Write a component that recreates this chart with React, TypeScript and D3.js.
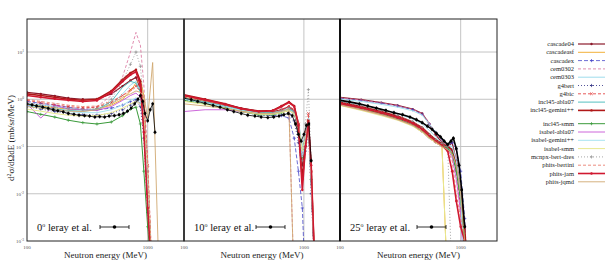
import React from "react";
import * as d3 from "d3";

// neutron DDX, p + Pb, three angles
const panelAngles = ["0", "10", "25"];

const e0 = [100, 130, 170, 220, 290, 380, 500, 620, 720, 800, 870, 930, 1000, 1100, 1250];
const e10 = [100, 150, 220, 300, 420, 550, 650, 750, 830, 900, 970, 1030, 1090, 1150, 1250];
const e25 = [100, 150, 220, 300, 400, 480, 550, 620, 700, 780, 850, 920, 1000, 1080, 1150];
const gridEnergies = [e0, e10, e25];

const cascade04 = [
  [1.4, 1.3, 1.18, 1.06, 1.0, 1.02, 1.3, 1.9, 2.5, 2.9, 1.6, 0.35, 0.01, 0, 0],
  [1.2, 0.95, 0.78, 0.65, 0.56, 0.55, 0.6, 0.7, 0.55, 0.2, 0.04, 0.12, 0.3, 0.02, 0],
  [1.1, 0.98, 0.85, 0.74, 0.62, 0.5, 0.3, 0.18, 0.12, 0.1, 0.12, 0.05, 0.008, 0.001, 0],
];
const cascadeasf = [
  [0.78, 0.72, 0.66, 0.62, 0.6, 0.62, 0.75, 1.0, 1.5, 2.2, 2.6, 1.2, 0.02, 0, 0],
  [1.1, 0.9, 0.74, 0.62, 0.52, 0.5, 0.52, 0.58, 0.5, 0.3, 0.1, 0.15, 0.25, 0.05, 0],
  [0.78, 0.62, 0.48, 0.38, 0.28, 0.2, 0.15, 0.12, 0.1, 0, 0, 0, 0, 0, 0],
];
const cascadex = [
  [0.9, 0.82, 0.75, 0.68, 0.62, 0.6, 0.65, 0.75, 0.9, 1.0, 0.8, 0.3, 0.01, 0, 0],
  [1.0, 0.85, 0.7, 0.58, 0.48, 0.45, 0.45, 0.4, 0.15, 0.03, 0.005, 0, 0, 0, 0],
  [1.05, 0.94, 0.82, 0.72, 0.6, 0.48, 0.3, 0.2, 0.14, 0.11, 0.12, 0.09, 0.03, 0.003, 0],
];
const cem0302 = [
  [0.85, 0.78, 0.7, 0.65, 0.62, 0.7, 1.2, 3.0, 10, 26, 14, 2.0, 0.05, 0, 0],
  [1.05, 0.88, 0.72, 0.6, 0.52, 0.52, 0.58, 0.7, 0, 0, 0, 0, 0, 0, 0],
  [1.08, 0.96, 0.84, 0.73, 0.61, 0.5, 0.32, 0.19, 0.13, 0.1, 0.1, 0.06, 0.01, 0.001, 0],
];
const cem0303 = [
  [0.82, 0.76, 0.7, 0.64, 0.6, 0.62, 0.8, 1.3, 2.0, 2.4, 1.6, 0.5, 0.02, 0, 0],
  [1.0, 0.85, 0.7, 0.58, 0.5, 0.5, 0.55, 0.62, 0.55, 0.35, 0.1, 0.2, 0.4, 0.05, 0],
  [0.9, 0.76, 0.62, 0.5, 0.38, 0.3, 0.22, 0.16, 0.12, 0.1, 0.09, 0.05, 0.01, 0, 0],
];
const g4bert = [
  [0.7, 0.62, 0.55, 0.5, 0.47, 0.46, 0.5, 0.6, 0.75, 0.9, 0.7, 0.15, 0.004, 0, 0],
  [0.95, 0.8, 0.66, 0.55, 0.46, 0.45, 0.47, 0.5, 0.35, 0.12, 0.03, 0.08, 0.2, 0.01, 0],
  [0.85, 0.69, 0.54, 0.43, 0.32, 0.24, 0.17, 0.135, 0.11, 0.095, 0.085, 0.05, 0.012, 0.002, 0],
];
const g4bic = [
  [0.95, 0.85, 0.76, 0.7, 0.66, 0.68, 0.85, 1.2, 1.6, 1.9, 2.0, 0.9, 0.04, 0, 0],
  [1.1, 0.9, 0.74, 0.62, 0.54, 0.54, 0.6, 0.72, 0.6, 0.3, 0.05, 0.2, 0.5, 0.03, 0],
  [0.8, 0.64, 0.5, 0.4, 0.3, 0.22, 0.16, 0.13, 0.11, 0.095, 0.075, 0.03, 0.005, 0.001, 0],
];
const incl45Abla07 = [
  [0.75, 0.68, 0.62, 0.58, 0.56, 0.6, 0.9, 1.8, 2.4, 2.2, 1.4, 0.3, 0.01, 0, 0],
  [1.05, 0.88, 0.72, 0.6, 0.52, 0.52, 0.56, 0.62, 0.55, 0.3, 0.08, 0.15, 0.35, 0.02, 0],
  [0.83, 0.67, 0.52, 0.41, 0.31, 0.23, 0.165, 0.13, 0.11, 0.095, 0.078, 0.035, 0.008, 0.001, 0],
];
const incl45Gemini = [
  [1.3, 1.2, 1.1, 1.0, 0.95, 1.0, 1.5, 2.6, 3.6, 4.2, 2.4, 0.3, 0.01, 0, 0],
  [1.25, 1.0, 0.8, 0.64, 0.56, 0.58, 0.72, 0.88, 0.72, 0.3, 0.02, 0.1, 0.35, 0.03, 0],
  [0.86, 0.7, 0.55, 0.44, 0.33, 0.25, 0.18, 0.14, 0.115, 0.1, 0.085, 0.045, 0.01, 0.002, 0],
];
const incl45Smm = [
  [0.55, 0.48, 0.42, 0.36, 0.32, 0.3, 0.33, 0.45, 0.62, 0.68, 0.3, 0.03, 0.002, 0, 0],
  [0.95, 0.8, 0.66, 0.55, 0.47, 0.47, 0.52, 0.6, 0.5, 0.25, 0.06, 0.12, 0.28, 0.02, 0],
  [0.8, 0.64, 0.5, 0.39, 0.29, 0.21, 0.155, 0.125, 0.105, 0.09, 0.07, 0.03, 0.007, 0.001, 0],
];
const isabelAbla07 = [
  [0.8, 0.4, 0.75, 0.62, 0.6, 0.58, 0.7, 0.95, 1.2, 1.35, 1.1, 0.5, 0.02, 0, 0],
  [0.55, 0.6, 0.6, 0.55, 0.5, 0.5, 0.55, 0.6, 0.5, 0.3, 0.06, 0.15, 0.3, 0.02, 0],
  [0.76, 0.6, 0.47, 0.37, 0.28, 0.2, 0.15, 0.12, 0.1, 0.085, 0.06, 0.02, 0.004, 0, 0],
];
const isabelGemini = [
  [0.72, 0.66, 0.6, 0.55, 0.52, 0.52, 0.6, 0.75, 0.95, 1.05, 0.9, 0.4, 0.015, 0, 0],
  [1.0, 0.84, 0.7, 0.58, 0.5, 0.5, 0.54, 0.6, 0.5, 0.28, 0.06, 0.14, 0.3, 0.02, 0],
  [1.0, 0.9, 0.78, 0.68, 0.57, 0.46, 0.3, 0.2, 0.14, 0.11, 0.1, 0.05, 0.01, 0, 0],
];
const isabelSmm = [
  [0.62, 0.56, 0.5, 0.46, 0.44, 0.45, 0.52, 0.65, 0.8, 0.9, 0.8, 0.5, 0.03, 0, 0],
  [0.9, 0.78, 0.65, 0.55, 0.48, 0.48, 0.52, 0.58, 0.5, 0.3, 0.08, 0.15, 0.3, 0.03, 0],
  [0.74, 0.58, 0.45, 0.36, 0.27, 0.2, 0.15, 0.12, 0.1, 0, 0, 0, 0, 0, 0],
];
const mcnpxBertDres = [
  [0.8, 0.74, 0.68, 0.63, 0.6, 0.64, 1.0, 2.4, 5.5, 10, 5, 0.8, 0.03, 0, 0],
  [1.1, 0.9, 0.74, 0.62, 0.54, 0.54, 0.58, 0.66, 0.55, 0.25, 0.05, 0.3, 1.6, 0.05, 0],
  [0.88, 0.72, 0.57, 0.45, 0.34, 0.25, 0.18, 0.14, 0.115, 0.1, 0, 0, 0, 0, 0],
];
const phitsBertini = [
  [1.0, 0.9, 0.82, 0.75, 0.7, 0.72, 0.9, 1.2, 1.5, 1.8, 1.5, 0.7, 0.05, 0, 0],
  [1.15, 0.94, 0.76, 0.62, 0.55, 0.56, 0.68, 0.85, 0.7, 0.3, 0.015, 0.08, 0.3, 0.03, 0],
  [0.8, 0.65, 0.51, 0.4, 0.3, 0.22, 0.16, 0.13, 0.105, 0.085, 0.05, 0.01, 0.003, 0.001, 0],
];
const phitsJam = [
  [1.2, 1.1, 1.02, 0.95, 0.9, 0.94, 1.4, 2.4, 3.3, 3.8, 2.0, 0.2, 0.005, 0, 0],
  [1.2, 0.97, 0.78, 0.63, 0.55, 0.57, 0.7, 0.86, 0.7, 0.28, 0.012, 0.1, 0.32, 0.04, 0],
  [0.82, 0.66, 0.52, 0.41, 0.31, 0.23, 0.165, 0.13, 0.105, 0.08, 0.03, 0.007, 0.002, 0.001, 0],
];
const phitsJqmd = [
  [0.7, 0.65, 0.6, 0.56, 0.55, 0.6, 0.8, 1.1, 1.3, 1.5, 1.4, 1.2, 0.4, 6, 0],
  [0.8, 0.72, 0.64, 0.56, 0.5, 0.5, 0.55, 0.62, 0, 0, 0, 0, 0, 0, 0],
  [0.75, 0.6, 0.47, 0.37, 0.28, 0.21, 0.155, 0.125, 0.1, 0.085, 0.07, 0.04, 0.01, 0.001, 0],
];

const modelNames = [
  "cascade04", "cascadeasf", "cascadex", "cem0302", "cem0303", "g4bert", "g4bic",
  "incl45-abla07", "incl45-gemini++", "incl45-smm", "isabel-abla07", "isabel-gemini++",
  "isabel-smm", "mcnpx-bert-dres", "phits-bertini", "phits-jam", "phits-jqmd",
];
const modelValues = [
  cascade04, cascadeasf, cascadex, cem0302, cem0303, g4bert, g4bic, incl45Abla07,
  incl45Gemini, incl45Smm, isabelAbla07, isabelGemini, isabelSmm, mcnpxBertDres,
  phitsBertini, phitsJam, phitsJqmd,
];
const modelColors = [
  "#8b1a2b", "#f2b13a", "#4848c8", "#d8709a", "#9fdcec", "#2a2a80", "#e03030",
  "#55c0c0", "#b01818", "#3a9a3a", "#c040d0", "#a8e4f0", "#e8e890", "#909090",
  "#e87060", "#d01830", "#d0a870",
];
const modelDashes = [
  "", "", "4,2", "3,2", "", "1,2", "3,2", "", "", "", "", "", "", "1,2", "3,2", "", "",
];
const modelMarks = [
  "o", "", "+", "", "", "+", "x", "", "o", "+", "", "", "", "+", "", "o", "",
];
const modelWidths = [1.2, 1, 0.8, 0.8, 1, 0.8, 0.8, 1, 1.6, 1, 0.8, 1, 1, 0.8, 0.8, 1.6, 0.9];

const exp0E = [100, 110, 120, 135, 150, 165, 180, 200, 220, 245, 270, 300, 330, 365, 400, 440, 480, 530, 580, 630, 680, 730, 780, 830, 870, 910, 950, 1000, 1050, 1100, 1150];
const exp0 = [0.8, 0.76, 0.72, 0.68, 0.64, 0.6, 0.57, 0.54, 0.5, 0.48, 0.46, 0.45, 0.44, 0.42, 0.43, 0.42, 0.44, 0.45, 0.47, 0.5, 0.56, 0.65, 0.8, 1.0, 1.2, 0.9, 0.5, 0.35, 0.6, 0.8, 0.2];
const exp10E = [100, 115, 130, 150, 175, 200, 230, 260, 300, 340, 390, 440, 500, 560, 620, 680, 740, 800, 850, 900, 950, 1000, 1050, 1100, 1150];
const exp10 = [1.05, 0.98, 0.9, 0.82, 0.74, 0.68, 0.6, 0.55, 0.5, 0.46, 0.44, 0.42, 0.41, 0.42, 0.44, 0.47, 0.5, 0.45, 0.3, 0.18, 0.13, 0.18, 0.28, 0.3, 0.05];
const exp25E = [100, 120, 145, 170, 200, 240, 280, 330, 380, 430, 480, 530, 580, 630, 680, 730, 780, 830, 870, 920, 970, 1020, 1080];
const exp25 = [0.95, 0.88, 0.8, 0.72, 0.65, 0.58, 0.52, 0.47, 0.42, 0.37, 0.32, 0.27, 0.23, 0.19, 0.16, 0.13, 0.11, 0.13, 0.15, 0.09, 0.04, 0.012, 0.002];
const expEnergies = [exp0E, exp10E, exp25E];
const expValues = [exp0, exp10, exp25];

const yTickExps = [1, 0, -1, -2, -3];
const xTicks = [100, 1000];

const W = 611;
const H = 268;
const top = 19;
const bottom = 241;
const panelEdges = [27, 184, 340, 497];
const serif = "Liberation Serif, DejaVu Serif, serif";

function Marker({ kind, x, y, color }: { kind: string; x: number; y: number; color: string }) {
  if (kind === "o") return <circle cx={x} cy={y} r={1.2} fill={color} />;
  if (kind === "+")
    return <path d={`M${x - 1.6},${y}h3.2M${x},${y - 1.6}v3.2`} stroke={color} strokeWidth={0.7} />;
  if (kind === "x")
    return <path d={`M${x - 1.3},${y - 1.3}l2.6,2.6M${x - 1.3},${y + 1.3}l2.6,-2.6`} stroke={color} strokeWidth={0.7} />;
  return null;
}

function Panel({ idx }: { idx: number }) {
  const x0 = panelEdges[idx];
  const x1 = panelEdges[idx + 1];
  const x = d3.scaleLog().domain([100, 2000]).range([x0, x1]);
  const y = d3.scaleLog().domain([1e-3, 50]).range([bottom, top]);
  const yv = (v: number) => y(Math.max(v, 1e-4));
  const energies = gridEnergies[idx];
  const line = d3.line<[number, number]>().x((d) => x(d[0])).y((d) => yv(d[1]));
  const clipId = `clip${idx}`;
  const expPts = expEnergies[idx].map((e, i) => [e, expValues[idx][i]] as [number, number]);
  const mid = (x0 + x1) / 2;
  const legX = x0 + (idx === 0 ? 73 : idx === 1 ? 72 : 77);

  return (
    <g>
      <defs>
        <clipPath id={clipId}>
          <rect x={x0} y={top} width={x1 - x0} height={bottom - top} />
        </clipPath>
      </defs>
      {yTickExps.slice(0, 4).map((p) => (
        <line key={p} x1={x0} x2={x1} y1={y(10 ** p)} y2={y(10 ** p)} stroke="#c4c4c4" strokeWidth={1} />
      ))}
      <line x1={x(1000)} x2={x(1000)} y1={top} y2={bottom} stroke="#c4c4c4" strokeWidth={1} />
      <g clipPath={`url(#${clipId})`}>
        {modelValues.map((vals, m) => {
          const pts = energies.map((e, i) => [e, vals[idx][i]] as [number, number]);
          return (
            <g key={m}>
              <path
                d={line(pts) ?? ""}
                fill="none"
                stroke={modelColors[m]}
                strokeWidth={modelWidths[m]}
                strokeDasharray={modelDashes[m] || undefined}
              />
              {modelMarks[m] &&
                pts.map((p, i) => (
                  <Marker key={i} kind={modelMarks[m]} x={x(p[0])} y={yv(p[1])} color={modelColors[m]} />
                ))}
            </g>
          );
        })}
        <path d={line(expPts) ?? ""} fill="none" stroke="#000" strokeWidth={idx === 2 ? 1.6 : 0.8} />
        {expPts.map((p, i) => (
          <g key={i}>
            <line x1={x(p[0])} x2={x(p[0])} y1={yv(p[1]) - 2} y2={yv(p[1]) + 2} stroke="#000" strokeWidth={0.6} />
            <circle cx={x(p[0])} cy={yv(p[1])} r={1.4} fill="#000" />
          </g>
        ))}
      </g>
      <rect x={x0} y={top} width={x1 - x0} height={bottom - top} fill="none" stroke="#222" strokeWidth={1} />
      {xTicks.map((t) => (
        <text key={t} x={x(t)} y={249} fontSize={5} textAnchor="middle" fill="#555" fontFamily={serif}>
          {t}
        </text>
      ))}
      <text x={mid} y={258} fontSize={9} textAnchor="middle" fontFamily={serif} fill="#222">
        Neutron energy (MeV)
      </text>
      <text x={x0 + 10} y={231} fontSize={10.5} fontFamily={serif} fill="#111">
        {panelAngles[idx]}
        <tspan fontSize={6} dy={-4}>o</tspan>
        <tspan dy={4}> leray et al.</tspan>
      </text>
      <line x1={legX} x2={legX + 29} y1={227} y2={227} stroke="#000" strokeWidth={0.8} />
      <line x1={legX} x2={legX} y1={225} y2={229} stroke="#000" strokeWidth={0.8} />
      <line x1={legX + 29} x2={legX + 29} y1={225} y2={229} stroke="#000" strokeWidth={0.8} />
      <circle cx={legX + 14.5} cy={227} r={1.8} fill="#000" />
    </g>
  );
}

export default function App() {
  const y = d3.scaleLog().domain([1e-3, 50]).range([bottom, top]);
  return (
    <svg width={W} height={H} style={{ position: "absolute", left: 0, top: 0, background: "#fff" }}>
      {[0, 1, 2].map((i) => (
        <Panel key={i} idx={i} />
      ))}
      <line x1={184} x2={184} y1={top} y2={bottom} stroke="#333" strokeWidth={1.6} />
      <line x1={340} x2={340} y1={top} y2={bottom} stroke="#111" strokeWidth={2} />
      {yTickExps.map((p) => (
        <text key={p} x={24} y={y(10 ** p) + 2} fontSize={5} textAnchor="end" fill="#555" fontFamily={serif}>
          10<tspan fontSize={3.5} dy={-2}>{p}</tspan>
        </text>
      ))}
      <text
        transform={`translate(14,${(top + bottom) / 2 + 8}) rotate(-90)`}
        fontSize={9}
        textAnchor="middle"
        fontFamily={serif}
        fill="#222"
      >
        d<tspan fontSize={6} dy={-3}>2</tspan>
        <tspan dy={3}>σ/dΩdE (mb/sr/MeV)</tspan>
      </text>
      {modelNames.map((name, i) => {
        const ly = 44 + i * 8.3 + (i >= 9 ? 5 : 0);
        return (
          <g key={name}>
            <text x={574} y={ly + 2} fontSize={6.5} textAnchor="end" fontFamily={serif} fill="#222">
              {name}
            </text>
            <line
              x1={578}
              x2={605}
              y1={ly}
              y2={ly}
              stroke={modelColors[i]}
              strokeWidth={modelWidths[i]}
              strokeDasharray={modelDashes[i] || undefined}
            />
            {modelMarks[i] && <Marker kind={modelMarks[i]} x={591.5} y={ly} color={modelColors[i]} />}
          </g>
        );
      })}
    </svg>
  );
}
